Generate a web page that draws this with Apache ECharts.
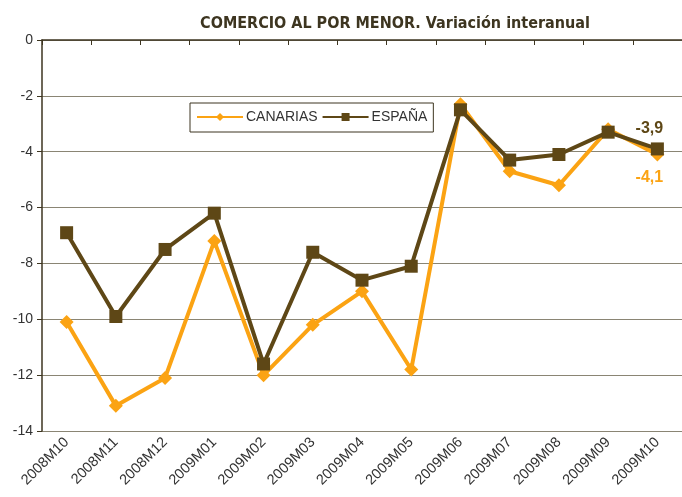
<!DOCTYPE html>
<html>
<head>
<meta charset="utf-8">
<script src="https://cdn.jsdelivr.net/npm/echarts@6/dist/echarts.min.js"></script>
<style>
  html, body { margin: 0; padding: 0; background: #fff; }
  #chart { width: 682px; height: 497px; }
</style>
</head>
<body>
<div id="chart"></div>
<script>
// datos
var meses = ['2008M10', '2008M11', '2008M12', '2009M01', '2009M02', '2009M03', '2009M04',
  '2009M05', '2009M06', '2009M07', '2009M08', '2009M09', '2009M10'];
var canarias = [-10.1, -13.1, -12.1, -7.2, -12.0, -10.2, -9.0, -11.8, -2.3, -4.7, -5.2, -3.2, -4.1];
var espana = [-6.9, -9.9, -7.5, -6.2, -11.6, -7.6, -8.6, -8.1, -2.5, -4.3, -4.1, -3.3, -3.9];
var yTicks = [0, -2, -4, -6, -8, -10, -12, -14];

var naranja = '#FBA313';
var marron = '#5E4716';

// solo el ultimo punto lleva etiqueta
function conEtiqueta(arr, color, pos, off) {
  return arr.map(function (v, i) {
    if (i !== arr.length - 1) return v;
    return {
      value: v,
      label: {
        show: true,
        position: pos,
        offset: off,
        color: color,
        fontFamily: 'Arial',
        fontWeight: 'bold',
        fontSize: 16,
        formatter: function (p) { return String(p.value).replace('.', ','); }
      }
    };
  });
}

var chart = echarts.init(document.getElementById('chart'));
var option = {
  animation: false,
  backgroundColor: '#fff',
  title: {
    text: 'COMERCIO AL POR MENOR. Variación interanual',
    left: 390,
    textAlign: 'center',
    top: 11,
    textStyle: {
      fontFamily: 'DejaVu Sans Condensed',
      fontWeight: 'bold',
      fontSize: 16,
      color: '#3d3520'
    }
  },
  legend: {
    data: ['CANARIAS', 'ESPAÑA'],
    left: 190,
    top: 103,
    padding: [7, 6, 8, 6],
    itemGap: 4,
    itemWidth: 46,
    itemHeight: 10,
    borderWidth: 1,
    borderColor: '#3d3520',
    borderRadius: 0,
    textStyle: { fontFamily: 'Arial', fontSize: 14, color: '#333', padding: [0, 0, 0, -2] }
  },
  grid: { left: 42, right: -4, top: 40, bottom: 66, containLabel: false },
  xAxis: [{
    type: 'category',
    data: meses,
    position: 'bottom',
    boundaryGap: true,
    axisLine: { show: false },
    axisTick: { show: false },
    axisLabel: {
      rotate: 45,
      interval: 0,
      margin: 9,
      fontFamily: 'Arial',
      fontSize: 14.5,
      color: '#333'
    }
  }, {
    type: 'category',
    data: meses,
    position: 'top',
    boundaryGap: true,
    axisLine: { show: true, onZero: false, lineStyle: { color: '#3d3520', width: 1.5 } },
    axisTick: { show: true, inside: true, length: 5, interval: 0, lineStyle: { color: '#3d3520' } },
    axisLabel: { show: false }
  }],
  yAxis: {
    type: 'value',
    min: -14,
    max: 0,
    interval: 2,
    axisLine: { show: true, lineStyle: { color: '#3d3520', width: 1.5 } },
    axisTick: { show: true, length: 5, lineStyle: { color: '#3d3520' } },
    axisLabel: {
      margin: 9,
      fontFamily: 'Arial',
      fontSize: 14,
      color: '#333',
      formatter: function (v) { return yTicks.indexOf(v) >= 0 ? String(v) : ''; }
    },
    splitLine: { show: true, lineStyle: { color: '#8a8574', width: 1.2 } }
  },
  series: [{
    name: 'CANARIAS',
    type: 'line',
    data: conEtiqueta(canarias, naranja, 'bottom', [-8, 3]),
    symbol: 'diamond',
    symbolSize: 14,
    color: naranja,
    lineStyle: { width: 4, color: naranja },
    itemStyle: { color: naranja }
  }, {
    name: 'ESPAÑA',
    type: 'line',
    data: conEtiqueta(espana, marron, 'top', [-8, -1]),
    symbol: 'rect',
    symbolSize: 13,
    color: marron,
    lineStyle: { width: 4, color: marron },
    itemStyle: { color: marron }
  }]
};
chart.setOption(option);
</script>
</body>
</html>
